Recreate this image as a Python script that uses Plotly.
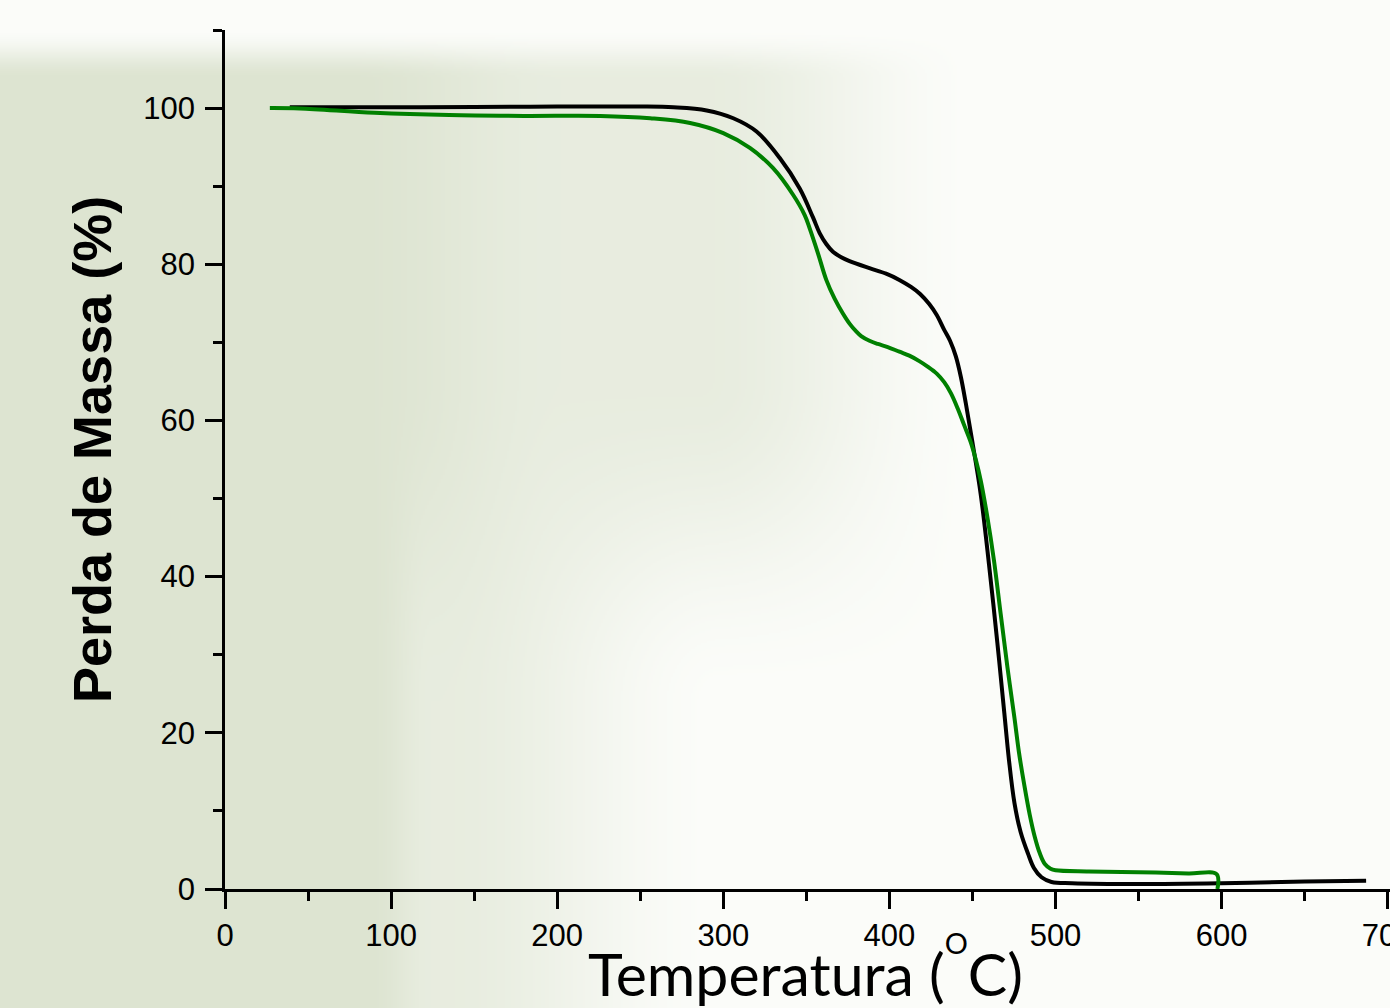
import base64, struct, zlib
import numpy as np
import plotly.graph_objects as go

# ---------------- data ----------------
temp_black = [39, 80, 150, 200, 250, 270, 290, 306, 320, 334, 346, 354, 358, 362, 366, 371,
              376, 388, 398, 406, 413, 418.5, 424, 428.5, 433, 436.5, 440, 443, 446, 450,
              455, 460, 465, 469.2, 472, 475.3, 479, 483.5, 487, 491.6, 497.6, 510, 550,
              600, 650, 687]
mass_black = [100.1, 100.1, 100.15, 100.2, 100.2, 100.1, 99.7, 98.7, 97.0, 93.6, 89.7, 86.0,
              84.0, 82.6, 81.6, 80.9, 80.4, 79.5, 78.8, 78.0, 77.1, 76.2, 74.9, 73.5, 71.6,
              70.2, 68.2, 65.6, 62.2, 57.2, 50.5, 41.5, 31.5, 22.5, 16.5, 11.0, 7.3, 4.5,
              2.7, 1.5, 0.9, 0.75, 0.65, 0.75, 0.95, 1.05]

temp_green = [27, 45, 90, 135, 180, 226, 256, 280, 300, 316, 330, 342, 349, 352, 357, 362, 367,
              372, 376, 380, 383, 388, 393, 399, 406, 412, 418, 423, 428.5, 433, 437, 441, 445,
              449, 452, 455, 459, 463, 467, 471, 475.3, 478, 481.3, 484.5, 487.5, 490.5, 493.6,
              497, 500, 520, 550, 580, 597, 597.5]
mass_green = [100.0, 99.95, 99.4, 99.1, 99.0, 99.0, 98.7, 98.1, 96.8, 94.9, 92.3, 88.9, 86.3,
              84.6, 81.4, 78.0, 75.6, 73.7, 72.4, 71.4, 70.8, 70.2, 69.8, 69.4, 68.8, 68.3, 67.6,
              66.9, 66.0, 64.9, 63.5, 61.6, 59.4, 57.2, 55.0, 52.3, 47.6, 42.0, 35.2, 28.5, 21.9,
              17.5, 13.2, 9.5, 6.7, 4.6, 3.2, 2.6, 2.4, 2.25, 2.15, 2.0, 1.9, 0.0]

x_ticks = [0, 100, 200, 300, 400, 500, 600, 700]
y_ticks = [0, 20, 40, 60, 80, 100]

# ---------------- layout geometry ----------------
W, H = 1390, 1008
ML, MR, MT, MB = 225, 0, 30, 119
PW, PH = W - ML - MR, H - MT - MB

# ---------------- soft background image ----------------
def ss(a, b, v):
    t = np.clip((v - a) / (b - a), 0, 1)
    return t * t * (3 - 2 * t)

step = 2
gw, gh = W // step, H // step
X, Y = np.meshgrid((np.arange(gw) + 0.5) * step, (np.arange(gh) + 0.5) * step)
gu = 1 - 0.35 * ss(350, 560, X) - 0.65 * ss(700, 980, X)
gl = 1 - 0.35 * ss(370, 430, X) - 0.65 * ss(440, 720, X)
tb = ss(380, 700, Y)
g = gu * (1 - tb) + gl * tb
g = g * (1 - (1 - ss(30, 80, Y)) * (1 - ss(900, 1100, X)))
green = np.array([221, 228, 209], float)
white = np.array([251, 252, 249], float)
img = np.round(white[None, None, :] * (1 - g[..., None]) + green[None, None, :] * g[..., None]).astype(np.uint8)

def png_bytes(arr):
    h, w, _ = arr.shape
    raw = b"".join(b"\x00" + arr[i].tobytes() for i in range(h))
    def chunk(tag, data):
        c = struct.pack(">I", len(data)) + tag + data
        return c + struct.pack(">I", zlib.crc32(tag + data) & 0xFFFFFFFF)
    return (b"\x89PNG\r\n\x1a\n" + chunk(b"IHDR", struct.pack(">IIBBBBB", w, h, 8, 2, 0, 0, 0))
            + chunk(b"IDAT", zlib.compress(raw, 9)) + chunk(b"IEND", b""))

bg_uri = "data:image/png;base64," + base64.b64encode(png_bytes(img)).decode()

# ---------------- figure ----------------
fig = go.Figure()
fig.add_trace(go.Scatter(x=temp_black, y=mass_black, mode="lines",
                         line=dict(color="#000000", width=4, shape="spline", smoothing=1.0),
                         showlegend=False))
fig.add_trace(go.Scatter(x=temp_green, y=mass_green, mode="lines",
                         line=dict(color="#008000", width=4, shape="spline", smoothing=1.0),
                         showlegend=False))

axis_common = dict(showline=True, linecolor="black", linewidth=2.5, ticks="outside",
                   tickcolor="black", tickwidth=2.5, ticklen=17, showgrid=False, zeroline=False,
                   ticklabeloverflow="allow",
                   tickfont=dict(family="Liberation Sans, Arial", size=31, color="black"))

fig.update_xaxes(range=[0, PW / 1.661], tickvals=x_ticks, ticktext=[str(v) for v in x_ticks],
                 minor=dict(ticks="outside", dtick=50, tick0=0, ticklen=9, tickwidth=2.5,
                            tickcolor="black", showgrid=False),
                 ticklabelstandoff=0, **axis_common)
fig.update_yaxes(range=[0, 110], tickvals=y_ticks, ticktext=[str(v) for v in y_ticks],
                 minor=dict(ticks="outside", dtick=10, tick0=0, ticklen=9, tickwidth=2.5,
                            tickcolor="black", showgrid=False),
                 ticklabelstandoff=4, **axis_common)

fig.update_layout(
    width=W, height=H,
    margin=dict(l=ML, r=MR, t=MT, b=MB, autoexpand=False),
    paper_bgcolor="white", plot_bgcolor="rgba(0,0,0,0)",
    images=[dict(source=bg_uri, xref="paper", yref="paper",
                 x=-ML / PW, y=1 + MT / PH, sizex=W / PW, sizey=H / PH,
                 xanchor="left", yanchor="top", sizing="stretch", layer="below")],
    annotations=[
        dict(text="<b>Perda de Massa (%)</b>", xref="paper", yref="paper",
             x=(92 - ML) / PW, y=(889 - 450) / PH, xanchor="center", yanchor="middle",
             textangle=-90, showarrow=False,
             font=dict(family="Liberation Sans, Arial", size=54, color="black")),
        dict(text="Temperatura (<sup><sup>O</sup></sup>C)", xref="paper", yref="paper",
             x=(805 - ML) / PW, y=(889 - 1011) / PH, xanchor="center", yanchor="bottom",
             showarrow=False,
             font=dict(family="Lato", size=59, color="black")),
    ],
)

fig.write_html("out.html", config={"displayModeBar": False},
               post_script="document.body.style.margin='0';document.body.style.overflow='hidden';")
